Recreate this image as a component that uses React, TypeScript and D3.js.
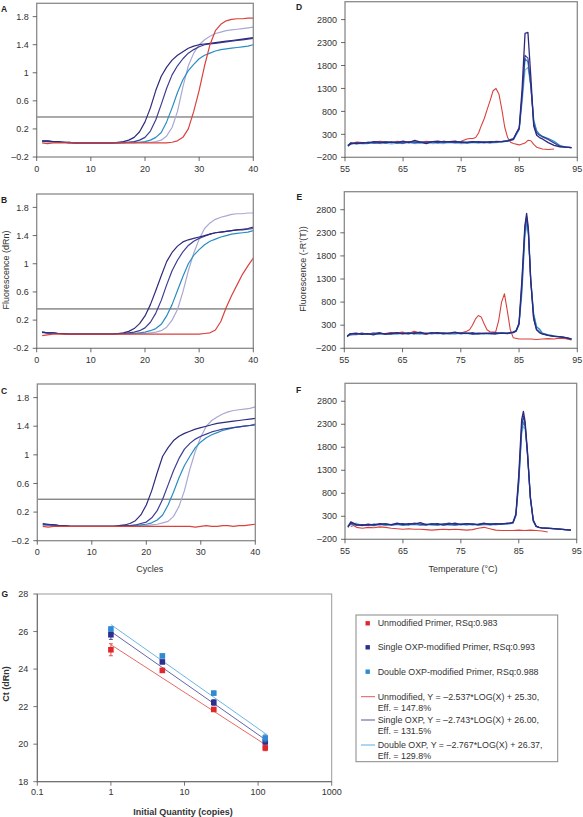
import React from "react";
import * as d3 from "d3";

const FONT = "'Liberation Sans', Arial, Helvetica, sans-serif";

// ---------------- colours ----------------
const C_DARK = "#2d2a7b";
const C_NAVY = "#3d3d96";
const C_TEAL = "#2a8dc2";
const C_LAV = "#a9a8d4";
const C_LIGHT = "#7bb9e6";
const C_RED = "#d9423c";

// ---------------- amplification data (A–C) ----------------
const CYCLES = [1, 2, 3, 4, 5, 6, 7, 8, 9, 10, 11, 12, 13, 14, 15, 16, 17, 18, 19, 20, 21, 22, 23, 24, 25, 26, 27, 28, 29, 30, 31, 32, 33, 34, 35, 36, 37, 38, 39, 40];
const AMP_XTICKS = [0, 10, 20, 30, 40];
const AMP_YTICKS = [-0.2, 0.2, 0.6, 1, 1.4, 1.8];
const THRESHOLDS = [0.37, 0.36, 0.38];

const A_DARK = [0.03, 0.03, 0.02, 0.02, 0.01, 0.01, 0, 0, 0, 0, 0, 0, 0, 0, 0.01, 0.02, 0.04, 0.08, 0.16, 0.3, 0.5, 0.75, 0.95, 1.08, 1.18, 1.25, 1.3, 1.35, 1.38, 1.4, 1.41, 1.42, 1.43, 1.44, 1.45, 1.46, 1.47, 1.48, 1.49, 1.5];
const A_NAVY = [0.03, 0.02, 0.02, 0.01, 0.01, 0, 0, 0, 0, 0, 0, 0, 0, 0, 0, 0.01, 0.01, 0.02, 0.04, 0.08, 0.17, 0.33, 0.55, 0.78, 0.97, 1.1, 1.2, 1.28, 1.33, 1.37, 1.4, 1.41, 1.42, 1.43, 1.44, 1.45, 1.46, 1.47, 1.48, 1.49];
const A_TEAL = [0.02, 0.03, 0.02, 0.02, 0.01, 0.01, 0, 0, 0, 0, 0, 0, 0, 0, 0, 0, 0.01, 0.01, 0.01, 0.02, 0.04, 0.08, 0.15, 0.3, 0.5, 0.72, 0.9, 1.03, 1.12, 1.2, 1.25, 1.28, 1.31, 1.33, 1.34, 1.35, 1.36, 1.37, 1.38, 1.4];
const A_LAV = [0.02, 0.02, 0.02, 0.01, 0.01, 0, 0, 0, 0, 0, 0, 0, 0, 0, 0, 0, 0, 0, 0.01, 0.01, 0.01, 0.02, 0.04, 0.1, 0.22, 0.45, 0.8, 1.1, 1.28, 1.4, 1.47, 1.52, 1.56, 1.58, 1.6, 1.61, 1.62, 1.63, 1.64, 1.65];
const A_RED = [0, -0.01, 0, 0, 0, 0, 0, 0, 0, 0, 0, 0, 0, 0, 0, 0, 0, 0, 0, 0, 0, 0, 0, 0, 0.01, 0.03, 0.08, 0.2, 0.45, 0.75, 1.1, 1.4, 1.6, 1.69, 1.74, 1.76, 1.77, 1.77, 1.78, 1.78];

const B_DARK = [0.03, 0.02, 0.02, 0.01, 0.01, 0, 0, 0, 0, 0, 0, 0, 0, 0, 0.01, 0.02, 0.04, 0.08, 0.15, 0.26, 0.42, 0.62, 0.83, 1.03, 1.16, 1.25, 1.31, 1.34, 1.36, 1.38, 1.4, 1.42, 1.44, 1.45, 1.46, 1.47, 1.48, 1.49, 1.5, 1.52];
const B_NAVY = [0.03, 0.02, 0.02, 0.01, 0, 0, 0, 0, 0, 0, 0, 0, 0, 0, 0.01, 0.01, 0.02, 0.03, 0.05, 0.09, 0.17, 0.3, 0.48, 0.7, 0.9, 1.05, 1.17, 1.26, 1.32, 1.36, 1.39, 1.42, 1.44, 1.45, 1.46, 1.47, 1.48, 1.48, 1.49, 1.5];
const B_TEAL = [0.03, 0.02, 0.02, 0.01, 0.01, 0, 0, 0, 0, 0, 0, 0, 0, 0, 0, 0.01, 0.01, 0.01, 0.02, 0.03, 0.05, 0.08, 0.14, 0.26, 0.42, 0.62, 0.82, 1.0, 1.12, 1.2, 1.27, 1.32, 1.35, 1.38, 1.4, 1.42, 1.43, 1.44, 1.45, 1.47];
const B_LAV = [0.02, 0.02, 0.01, 0.01, 0.01, 0, 0, 0, 0, 0, 0, 0, 0, 0, 0, 0, 0, 0.01, 0.01, 0.01, 0.02, 0.03, 0.05, 0.1, 0.2, 0.35, 0.6, 0.9, 1.15, 1.35, 1.5, 1.58, 1.63, 1.66, 1.68, 1.7, 1.71, 1.71, 1.72, 1.72];
const B_RED = [-0.02, -0.01, 0, 0, 0, 0, 0, 0, 0, 0, 0, 0, 0, 0, 0, 0, 0, 0, 0, 0, 0, 0, 0, 0, 0, 0, 0, 0, 0, 0, 0.01, 0.02, 0.06, 0.18, 0.38, 0.55, 0.7, 0.85, 0.97, 1.08];

const C_DARK_V = [0.04, 0.03, 0.02, 0.01, 0.01, 0, 0, 0, 0, 0, 0, 0, 0, 0, 0.01, 0.02, 0.04, 0.08, 0.16, 0.3, 0.5, 0.75, 0.98, 1.1, 1.2, 1.26, 1.3, 1.33, 1.36, 1.38, 1.4, 1.42, 1.44, 1.45, 1.46, 1.47, 1.48, 1.49, 1.5, 1.51];
const C_NAVY_V = [0.03, 0.02, 0.02, 0.01, 0.01, 0, 0, 0, 0, 0, 0, 0, 0, 0, 0, 0.01, 0.01, 0.02, 0.04, 0.06, 0.12, 0.22, 0.38, 0.58, 0.78, 0.95, 1.08, 1.16, 1.22, 1.26, 1.29, 1.32, 1.34, 1.36, 1.37, 1.38, 1.39, 1.4, 1.41, 1.42];
const C_TEAL_V = [0.02, 0.02, 0.02, 0.01, 0.01, 0, 0, 0, 0, 0, 0, 0, 0, 0, 0, 0, 0.01, 0.01, 0.02, 0.03, 0.05, 0.09, 0.16, 0.3, 0.48, 0.68, 0.85, 0.98, 1.1, 1.18, 1.24, 1.28, 1.31, 1.34, 1.36, 1.38, 1.39, 1.4, 1.41, 1.43];
const C_LAV_V = [0.02, 0.02, 0.01, 0.01, 0.01, 0, 0, 0, 0, 0, 0, 0, 0, 0, 0, 0, 0, 0.01, 0.01, 0.01, 0.02, 0.03, 0.05, 0.07, 0.14, 0.28, 0.5, 0.8, 1.05, 1.25, 1.4, 1.48, 1.53, 1.57, 1.6, 1.62, 1.63, 1.64, 1.65, 1.67];
const C_RED_V = [0, -0.01, 0, 0, 0, 0, 0, 0, 0, 0, 0, 0, 0, 0, 0, 0, 0, 0, 0, 0, 0, 0, 0, 0, 0, 0, 0, 0, -0.01, 0, 0.01, 0, 0, 0.01, 0.01, 0, 0.01, 0.01, 0.02, 0.03];

// ---------------- melt data (D–F) ----------------
const MELT_XTICKS = [55, 65, 75, 85, 95];
const MELT_YTICKS = [-200, 300, 800, 1300, 1800, 2300, 2800];

const TD = [55.5, 56, 57, 58, 59, 60, 61, 62, 63, 64, 65, 66, 67, 68, 69, 70, 71, 72, 73, 74, 75, 76, 77, 78, 79, 80, 81, 82, 83, 84, 84.5, 85, 85.5, 86, 86.5, 87, 87.5, 88, 88.5, 89, 90, 91, 92, 93, 94];
const D_DARK = [50, 110, 100, 120, 110, 140, 130, 120, 130, 120, 150, 120, 170, 130, 100, 140, 150, 130, 140, 150, 120, 130, 140, 130, 120, 140, 130, 140, 160, 200, 330, 450, 1300, 2500, 2520, 1550, 480, 280, 230, 200, 120, 60, 30, 20, 10];
const D_NAVY = [40, 90, 120, 100, 130, 120, 110, 140, 120, 130, 110, 140, 130, 120, 130, 140, 120, 150, 130, 120, 140, 120, 130, 140, 130, 120, 150, 140, 150, 190, 310, 420, 1150, 2020, 1960, 1350, 520, 330, 280, 250, 190, 110, 40, 20, 10];
const D_TEAL = [60, 120, 90, 110, 120, 100, 130, 110, 140, 100, 120, 130, 110, 140, 120, 130, 140, 120, 130, 140, 130, 110, 130, 120, 140, 130, 140, 150, 170, 210, 320, 430, 1100, 1950, 1880, 1350, 600, 380, 300, 260, 210, 150, 60, 20, 10];
const D_LIGHT = [70, 80, 110, 90, 100, 120, 100, 110, 90, 110, 100, 120, 100, 110, 120, 100, 110, 100, 120, 110, 100, 110, 120, 110, 120, 110, 120, 130, 150, 180, 290, 400, 1000, 1700, 1760, 1350, 620, 360, 290, 240, 190, 120, 50, 20, 10];
const TDR = [56, 57, 58, 59, 60, 61, 62, 63, 64, 65, 66, 67, 68, 69, 70, 71, 72, 73, 74, 75, 76, 76.5, 77, 77.5, 78, 78.5, 79, 79.5, 80, 80.5, 81, 81.5, 82, 82.5, 83, 83.5, 84, 85, 86, 86.5, 87, 87.5, 88, 89, 90, 91];
const D_RED = [100, 130, 120, 110, 130, 150, 140, 120, 150, 130, 120, 140, 130, 150, 140, 130, 150, 140, 130, 150, 200, 210, 210, 230, 330, 500, 650, 850, 1040, 1250, 1300, 1180, 850, 460, 230, 130, 100, 70, 110, 170, 160, 80, 20, -20, -30, -20];

const TE = [55.5, 56, 57, 58, 59, 60, 61, 62, 63, 64, 65, 66, 67, 68, 69, 70, 71, 72, 73, 74, 75, 76, 77, 78, 79, 80, 81, 82, 83, 84, 84.5, 85, 85.5, 86, 86.3, 86.6, 87, 87.5, 88, 88.5, 89, 90, 91, 92, 93, 94];
const E_DARK = [60, 110, 130, 100, 120, 90, 130, 110, 120, 140, 110, 130, 120, 150, 120, 130, 140, 110, 130, 150, 120, 130, 110, 120, 130, 120, 110, 130, 120, 140, 170, 350, 1300, 2450, 2720, 2400, 1300, 450, 200, 140, 110, 80, 60, 50, 30, 0];
const E_NAVY = [50, 120, 100, 130, 110, 120, 140, 100, 130, 120, 130, 110, 140, 130, 110, 140, 120, 130, 120, 140, 130, 120, 140, 110, 120, 130, 140, 120, 130, 150, 180, 330, 1200, 2400, 2650, 2350, 1250, 450, 210, 150, 110, 80, 60, 50, 30, 0];
const E_TEAL = [70, 90, 120, 110, 100, 130, 110, 120, 100, 130, 120, 140, 110, 120, 130, 110, 130, 140, 120, 110, 140, 130, 120, 130, 110, 120, 130, 140, 130, 150, 190, 320, 1100, 2300, 2560, 2300, 1300, 550, 260, 220, 130, 90, 70, 50, 30, 0];
const E_LIGHT = [80, 100, 90, 120, 100, 110, 100, 120, 110, 100, 120, 110, 130, 100, 120, 130, 110, 120, 100, 120, 110, 120, 100, 110, 120, 110, 120, 130, 120, 140, 170, 300, 1000, 2200, 2450, 2250, 1300, 550, 280, 200, 120, 90, 70, 50, 30, 10];
const TER = [56, 57, 58, 59, 60, 61, 62, 63, 64, 65, 66, 67, 68, 69, 70, 71, 72, 73, 74, 75, 76, 76.5, 77, 77.5, 78, 78.5, 79, 79.5, 80, 80.5, 81, 81.5, 82, 82.5, 83, 83.5, 84, 85, 86, 87, 88, 89, 90, 91, 92, 93, 94];
const E_RED = [90, 100, 120, 110, 130, 100, 120, 140, 130, 150, 120, 170, 130, 100, 130, 140, 120, 130, 120, 130, 170, 200, 300, 430, 510, 480, 330, 200, 160, 150, 160, 400, 800, 980, 600, 200, 30, 0, 0, 0, -10, 0, 10, 0, 20, 10, -20];

const TF = [55.5, 56, 57, 58, 59, 60, 61, 62, 63, 64, 65, 66, 67, 68, 69, 70, 71, 72, 73, 74, 75, 76, 77, 78, 79, 80, 81, 82, 83, 83.5, 84, 84.5, 85, 85.5, 85.8, 86.1, 86.5, 87, 87.5, 88, 88.5, 89, 90, 91, 92, 93, 94];
const F_DARK = [70, 180, 120, 100, 130, 110, 140, 130, 120, 150, 120, 140, 130, 160, 120, 130, 140, 110, 130, 150, 120, 140, 130, 120, 140, 130, 140, 130, 150, 150, 170, 350, 1200, 2400, 2580, 2350, 1700, 700, 200, 80, 60, 50, 40, 30, 20, 10, 0];
const F_NAVY = [60, 150, 110, 120, 100, 130, 120, 140, 110, 130, 140, 120, 150, 130, 110, 140, 120, 130, 150, 120, 130, 140, 120, 130, 150, 120, 130, 140, 140, 150, 160, 330, 1100, 2250, 2480, 2300, 1650, 700, 210, 80, 60, 50, 40, 30, 20, 10, 0];
const F_TEAL = [90, 130, 100, 110, 120, 100, 130, 110, 120, 130, 110, 120, 140, 110, 130, 120, 110, 140, 120, 110, 130, 120, 140, 110, 130, 140, 120, 130, 140, 140, 160, 320, 1050, 2150, 2350, 2250, 1650, 720, 220, 90, 60, 50, 40, 30, 20, 10, 0];
const F_LIGHT = [100, 120, 150, 100, 110, 90, 120, 100, 110, 120, 100, 110, 120, 100, 120, 110, 100, 120, 110, 100, 120, 110, 120, 100, 120, 110, 120, 130, 130, 140, 150, 300, 1000, 2100, 2250, 2200, 1700, 750, 230, 90, 60, 50, 40, 30, 20, 10, 0];
const TFR = [56, 56.5, 57, 58, 59, 60, 61, 62, 63, 64, 65, 66, 67, 68, 69, 70, 71, 72, 73, 74, 75, 76, 77, 78, 79, 80, 81, 82, 83, 84, 85, 86, 87, 88, 89, 90];
const F_RED = [80, 100, 60, 40, 60, 50, 70, 60, 40, 30, 20, 30, 20, 20, 10, 0, 10, 20, 10, 20, 10, 0, 10, 40, 60, 30, 0, -10, -10, -10, 0, -10, 0, -10, -20, -40];

// ---------------- standard curve data (G) ----------------
const G_QTY = [1, 5, 25, 125];
const G_UNMOD = [25.03, 23.93, 21.85, 19.8];
const G_UNMOD_ERR = [0.32, 0.1, 0.1, 0.15];
const G_SINGLE = [25.83, 24.38, 22.22, 20.12];
const G_SINGLE_ERR = [0.25, 0.08, 0.15, 0.1];
const G_DOUBLE = [26.13, 24.7, 22.72, 20.33];
const G_DOUBLE_ERR = [0.12, 0.1, 0.1, 0.2];
const G_SLOPES = [-2.537, -2.743, -2.767];
const G_INTERCEPTS = [25.3, 26.0, 26.37];
const G_XTICKS = [0.1, 1, 10, 100, 1000];
const G_YTICKS = [18, 20, 22, 24, 26, 28];
const G_LEGEND_POINTS = ["Unmodified Primer, RSq:0.983", "Single OXP-modified Primer, RSq:0.993", "Double OXP-modified Primer, RSq:0.988"];
const G_LEGEND_LINES = [
  ["Unmodified, Y = \u20132.537*LOG(X) + 25.30,", "Eff. = 147.8%"],
  ["Single OXP, Y = \u20132.743*LOG(X) + 26.00,", "Eff. = 131.5%"],
  ["Double OXP, Y = \u20132.767*LOG(X) + 26.37,", "Eff. = 129.8%"],
];

const G_MARK = ["#e0282b", "#2c2f8c", "#2f8ad2"];
const G_LINE = ["#e25a55", "#55559f", "#5aaee2"];

type Box = { x0: number; x1: number; y0: number; y1: number };
type S = { xs: number[]; ys: number[]; color: string; w?: number };

const TICK_COLOR = "#444";
const BOX_COLOR = "#8a8a8a";
const TICK_FS = 9;

function Panel({
  box, id, xDomain, yDomain, xTicks, yTicks, yLabel, series, letter, letterPos, threshold, thrColor, thrWidth,
}: {
  box: Box; id: string; xDomain: [number, number]; yDomain: [number, number]; xTicks: number[]; yTicks: number[];
  yLabel: (v: number) => string; series: S[]; letter: string; letterPos: [number, number];
  threshold?: number; thrColor?: string; thrWidth?: number;
}) {
  const x = d3.scaleLinear().domain(xDomain).range([box.x0, box.x1]);
  const y = d3.scaleLinear().domain(yDomain).range([box.y1, box.y0]);
  return (
    <g>
      <defs>
        <clipPath id={id}>
          <rect x={box.x0} y={box.y0} width={box.x1 - box.x0} height={box.y1 - box.y0} />
        </clipPath>
      </defs>
      <g clipPath={`url(#${id})`}>
        {threshold !== undefined && (
          <line x1={box.x0} x2={box.x1} y1={y(threshold)} y2={y(threshold)} stroke={thrColor} strokeWidth={thrWidth} />
        )}
        {series.map((s, i) => {
          const line = d3.line<number>().x((_, k) => x(s.xs[k])).y((v) => y(v));
          return <path key={i} d={line(s.ys) || ""} fill="none" stroke={s.color} strokeWidth={s.w ?? 1.2} strokeLinejoin="round" />;
        })}
      </g>
      <rect x={box.x0} y={box.y0} width={box.x1 - box.x0} height={box.y1 - box.y0} fill="none" stroke={BOX_COLOR} strokeWidth={1.3} />
      {yTicks.map((t) => (
        <g key={"y" + t}>
          <line x1={box.x0 - 4} x2={box.x0} y1={y(t)} y2={y(t)} stroke={TICK_COLOR} strokeWidth={0.8} />
          <text x={box.x0 - 8} y={y(t)} dy="0.35em" textAnchor="end" fontSize={TICK_FS} fill="#333" fontFamily={FONT}>{yLabel(t)}</text>
        </g>
      ))}
      {xTicks.map((t) => (
        <g key={"x" + t}>
          <line x1={x(t)} x2={x(t)} y1={box.y1} y2={box.y1 + 4} stroke={TICK_COLOR} strokeWidth={0.8} />
          <text x={x(t)} y={box.y1 + 14.5} textAnchor="middle" fontSize={TICK_FS} fill="#333" fontFamily={FONT}>{t}</text>
        </g>
      ))}
      <text x={letterPos[0]} y={letterPos[1]} fontSize={8.5} fontWeight="bold" fill="#222" fontFamily={FONT}>{letter}</text>
    </g>
  );
}

function ampLabel(minus: string) {
  return (v: number) => (v < 0 ? minus + String(Math.abs(v)) : String(v));
}
const meltLabel = (v: number) => (v < 0 ? "\u2013" + Math.abs(v) : String(v));

function ampSeries(dark: number[], navy: number[], teal: number[], lav: number[], red: number[]): S[] {
  return [
    { xs: CYCLES, ys: lav, color: C_LAV },
    { xs: CYCLES, ys: teal, color: C_TEAL },
    { xs: CYCLES, ys: navy, color: C_NAVY },
    { xs: CYCLES, ys: dark, color: C_DARK },
    { xs: CYCLES, ys: red, color: C_RED },
  ];
}
function meltSeries(t: number[], dark: number[], navy: number[], teal: number[], light: number[], tr: number[], red: number[]): S[] {
  return [
    { xs: tr, ys: red, color: C_RED, w: 1.1 },
    { xs: t, ys: light, color: C_LIGHT },
    { xs: t, ys: teal, color: C_TEAL },
    { xs: t, ys: navy, color: C_NAVY },
    { xs: t, ys: dark, color: C_DARK, w: 1.3 },
  ];
}

function ChartG() {
  const box: Box = { x0: 37.3, x1: 331.7, y0: 594, y1: 781.7 };
  const x = d3.scaleLog().domain([0.1, 1000]).range([box.x0, box.x1]);
  const y = d3.scaleLinear().domain([18, 28]).range([box.y1, box.y0]);
  const groups = [
    { v: G_UNMOD, e: G_UNMOD_ERR },
    { v: G_SINGLE, e: G_SINGLE_ERR },
    { v: G_DOUBLE, e: G_DOUBLE_ERR },
  ];
  const fitX = [G_QTY[0], G_QTY[G_QTY.length - 1]];
  const lx = 356, ly = 615, lw = 201.7, lh = 146.7;
  const pointRows = [623.3, 647.3, 671.7];
  const lineRows = [696.7, 720, 745];
  const LFS = 8.9;
  return (
    <g fontFamily={FONT}>
      <rect x={box.x0} y={box.y0} width={box.x1 - box.x0} height={box.y1 - box.y0} fill="none" stroke="#999" strokeWidth={1} />
      <line x1={box.x0} x2={box.x0} y1={box.y0} y2={box.y1} stroke="#666" strokeWidth={1} />
      <line x1={box.x0} x2={box.x1} y1={box.y1} y2={box.y1} stroke="#666" strokeWidth={1} />
      {G_YTICKS.map((t) => (
        <g key={"gy" + t}>
          <line x1={box.x0 - 4} x2={box.x0} y1={y(t)} y2={y(t)} stroke="#555" strokeWidth={0.8} />
          <text x={box.x0 - 9} y={y(t)} dy="0.35em" textAnchor="end" fontSize={TICK_FS} fill="#333">{t}</text>
        </g>
      ))}
      {G_XTICKS.map((t) => (
        <g key={"gx" + t}>
          <line x1={x(t)} x2={x(t)} y1={box.y1} y2={box.y1 + 4} stroke="#555" strokeWidth={0.8} />
          <text x={x(t)} y={box.y1 + 13.5} textAnchor="middle" fontSize={TICK_FS} fill="#333">{t}</text>
        </g>
      ))}
      {G_SLOPES.map((m, i) => (
        <line key={"fit" + i} x1={x(fitX[0])} x2={x(fitX[1])}
          y1={y(m * Math.log10(fitX[0]) + G_INTERCEPTS[i])} y2={y(m * Math.log10(fitX[1]) + G_INTERCEPTS[i])}
          stroke={G_LINE[i]} strokeWidth={0.9} />
      ))}
      {groups.map((g, i) => (
        <g key={"pts" + i}>
          {G_QTY.map((q, k) => {
            const cx = x(q), cy = y(g.v[k]);
            const ya = y(g.v[k] + g.e[k]), yb = y(g.v[k] - g.e[k]);
            return (
              <g key={k}>
                <line x1={cx} x2={cx} y1={ya} y2={yb} stroke={G_MARK[i]} strokeWidth={0.8} />
                <line x1={cx - 2} x2={cx + 2} y1={ya} y2={ya} stroke={G_MARK[i]} strokeWidth={0.8} />
                <line x1={cx - 2} x2={cx + 2} y1={yb} y2={yb} stroke={G_MARK[i]} strokeWidth={0.8} />
                <rect x={cx - 2.8} y={cy - 2.8} width={5.6} height={5.6} fill={G_MARK[i]} />
              </g>
            );
          })}
        </g>
      ))}
      <text x={1.5} y={597} fontSize={8.5} fontWeight="bold" fill="#222">G</text>
      <text transform={`translate(9,684) rotate(-90)`} textAnchor="middle" fontSize={9} fontWeight="bold" fill="#333">Ct (dRn)</text>
      <text x={183} y={814.5} textAnchor="middle" fontSize={9} fontWeight="bold" fill="#333">Initial Quantity (copies)</text>
      {/* legend */}
      <rect x={lx} y={ly} width={lw} height={lh} fill="#fff" stroke="#888" strokeWidth={1} />
      {G_LEGEND_POINTS.map((t, i) => (
        <g key={"lp" + i}>
          <rect x={367.7 - 2.2} y={pointRows[i] - 2.2} width={4.4} height={4.4} fill={G_MARK[i]} />
          <text x={377.7} y={pointRows[i]} dy="0.35em" fontSize={LFS} fill="#333">{t}</text>
        </g>
      ))}
      {G_LEGEND_LINES.map((t, i) => (
        <g key={"ll" + i}>
          <line x1={361} x2={375} y1={lineRows[i]} y2={lineRows[i]} stroke={G_LINE[i]} strokeWidth={1} />
          <text x={377.7} y={lineRows[i]} dy="0.35em" fontSize={LFS} fill="#333">{t[0]}</text>
          <text x={377.7} y={lineRows[i] + 10.8} dy="0.35em" fontSize={LFS} fill="#333">{t[1]}</text>
        </g>
      ))}
    </g>
  );
}

export default function App() {
  const ampY: [number, number] = [-0.2, 1.99];
  const meltY: [number, number] = [-200, 3190];
  return (
    <svg width={583} height={817} style={{ position: "absolute", left: 0, top: 0, background: "#fff" }} fontFamily={FONT}>
      <rect x={0} y={0} width={583} height={817} fill="#fff" />
      <Panel box={{ x0: 36.7, x1: 253.3, y0: 3.3, y1: 157 }} id="cA" xDomain={[0, 40]} yDomain={ampY}
        xTicks={AMP_XTICKS} yTicks={AMP_YTICKS} yLabel={ampLabel("\u2013")} letter="A" letterPos={[1, 11.5]}
        series={ampSeries(A_DARK, A_NAVY, A_TEAL, A_LAV, A_RED)} threshold={THRESHOLDS[0]} thrColor="#555" thrWidth={1} />
      <Panel box={{ x0: 36.7, x1: 253.3, y0: 194, y1: 348.3 }} id="cB" xDomain={[0, 40]} yDomain={ampY}
        xTicks={AMP_XTICKS} yTicks={AMP_YTICKS} yLabel={ampLabel("-")} letter="B" letterPos={[1, 202.5]}
        series={ampSeries(B_DARK, B_NAVY, B_TEAL, B_LAV, B_RED)} threshold={THRESHOLDS[1]} thrColor="#9a9a9a" thrWidth={1.6} />
      <Panel box={{ x0: 37.3, x1: 255.3, y0: 384, y1: 540.7 }} id="cC" xDomain={[0, 40]} yDomain={ampY}
        xTicks={AMP_XTICKS} yTicks={AMP_YTICKS} yLabel={ampLabel("\u2013")} letter="C" letterPos={[1, 393.5]}
        series={ampSeries(C_DARK_V, C_NAVY_V, C_TEAL_V, C_LAV_V, C_RED_V)} threshold={THRESHOLDS[2]} thrColor="#555" thrWidth={1} />
      <Panel box={{ x0: 345, x1: 577.3, y0: 1.7, y1: 157.3 }} id="cD" xDomain={[55, 95]} yDomain={meltY}
        xTicks={MELT_XTICKS} yTicks={MELT_YTICKS} yLabel={meltLabel} letter="D" letterPos={[296, 9.5]}
        series={meltSeries(TD, D_DARK, D_NAVY, D_TEAL, D_LIGHT, TDR, D_RED)} />
      <Panel box={{ x0: 344.3, x1: 577.3, y0: 191.7, y1: 348.3 }} id="cE" xDomain={[55, 95]} yDomain={meltY}
        xTicks={MELT_XTICKS} yTicks={MELT_YTICKS} yLabel={meltLabel} letter="E" letterPos={[296.5, 199.5]}
        series={meltSeries(TE, E_DARK, E_NAVY, E_TEAL, E_LIGHT, TER, E_RED)} />
      <Panel box={{ x0: 345, x1: 576.7, y0: 383.3, y1: 539.3 }} id="cF" xDomain={[55, 95]} yDomain={meltY}
        xTicks={MELT_XTICKS} yTicks={MELT_YTICKS} yLabel={meltLabel} letter="F" letterPos={[296, 392.5]}
        series={meltSeries(TF, F_DARK, F_NAVY, F_TEAL, F_LIGHT, TFR, F_RED)} />
      <text transform="translate(9.3,270) rotate(-90)" textAnchor="middle" fontSize={9} fill="#333">Fluorescence (dRn)</text>
      <text transform="translate(305.7,269) rotate(-90)" textAnchor="middle" fontSize={9} fill="#333">Fluorescence (-R’(T))</text>
      <text x={149.7} y={571.5} textAnchor="middle" fontSize={9} fill="#333">Cycles</text>
      <text x={463} y={571.5} textAnchor="middle" fontSize={9} fill="#333">Temperature (°C)</text>
      <ChartG />
    </svg>
  );
}
